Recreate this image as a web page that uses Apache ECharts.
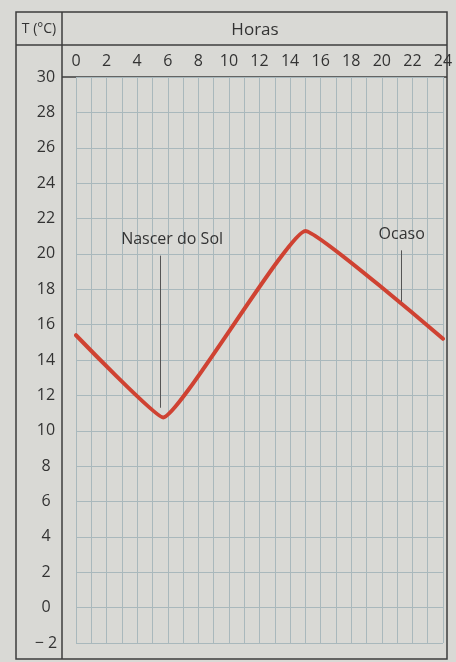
<!DOCTYPE html>
<html>
<head>
<meta charset="utf-8">
<script src="https://cdn.jsdelivr.net/npm/echarts@6/dist/echarts.min.js"></script>
<style>
  html, body { margin: 0; padding: 0; background: #d9d9d5; }
  #chart { width: 456px; height: 662px; }
</style>
</head>
<body>
<div id="chart"></div>
<script>
// hora do dia / temperatura (°C)
var horas = [0, 5.7, 15, 24]
var temperaturas = [15.4, 10.75, 21.3, 15.2]
// marcas: nascer do sol e ocaso
var nascerSol = { hora: 5.5, de: 19.9, ate: 11.3, texto: 'Nascer do Sol' }
var ocaso = { hora: 21.3, de: 20.2, ate: 17.3, texto: 'Ocaso' }

var fonte = '"Open Sans", "Noto Sans", sans-serif'
var corTexto = '#333'
var corGrade = '#a9b8bc'
var corMoldura = '#3c3c3c'

var chart = echarts.init(document.getElementById('chart'))

function marca(m, dx) {
  return [
    { coord: [m.hora, m.de], label: { formatter: m.texto, offset: [dx, 0] } },
    { coord: [m.hora, m.ate] }
  ]
}

var option = {
  backgroundColor: '#d9d9d5',
  animation: false,
  grid: { left: 76, right: 13, top: 77, bottom: 19 },
  xAxis: {
    type: 'value',
    position: 'top',
    min: 0,
    max: 24,
    interval: 2,
    axisLine: { show: false },
    axisTick: { show: false },
    minorTick: { show: false, splitNumber: 2 },
    axisLabel: { color: corTexto, fontSize: 16, fontFamily: fonte, margin: 8 },
    splitLine: { show: true, lineStyle: { color: corGrade, width: 1 } },
    minorSplitLine: { show: true, lineStyle: { color: corGrade, width: 1 } }
  },
  yAxis: {
    type: 'value',
    min: -2,
    max: 30,
    interval: 2,
    axisLine: { show: false },
    axisTick: { show: false },
    axisLabel: {
      color: corTexto, fontSize: 16, fontFamily: fonte, margin: 30, align: 'center',
      formatter: function (v) { return v < 0 ? '\u2212 ' + Math.abs(v) : String(v) }
    },
    splitLine: { show: true, lineStyle: { color: corGrade, width: 1 } }
  },
  graphic: [
    { type: 'rect', shape: { x: 16, y: 12, width: 431, height: 647 },
      style: { fill: null, stroke: corMoldura, lineWidth: 1.5 }, silent: true },
    { type: 'line', shape: { x1: 62, y1: 12, x2: 62, y2: 659 },
      style: { stroke: corMoldura, lineWidth: 1.5 }, silent: true },
    { type: 'line', shape: { x1: 16, y1: 45, x2: 447, y2: 45 },
      style: { stroke: corMoldura, lineWidth: 1.5 }, silent: true },
    { type: 'line', shape: { x1: 62, y1: 77, x2: 447, y2: 77 },
      style: { stroke: corMoldura, lineWidth: 1.5 }, silent: true },
    { type: 'text', x: 39, y: 29,
      style: { text: 'T (°C)', fill: corTexto, font: '14px ' + fonte,
        align: 'center', verticalAlign: 'middle' } },
    { type: 'text', x: 255, y: 30,
      style: { text: 'Horas', fill: corTexto, font: '17px ' + fonte,
        align: 'center', verticalAlign: 'middle' } }
  ],
  series: [
    {
      type: 'line',
      data: horas.map(function (h, i) { return [h, temperaturas[i]] }),
      smooth: 0.1,
      symbol: 'none',
      lineStyle: { color: '#cf4232', width: 4, cap: 'round', join: 'round' },
      markLine: {
        silent: true,
        symbol: 'none',
        lineStyle: { color: '#555', width: 1, type: 'solid' },
        label: {
          show: true, position: 'start', distance: 8,
          color: corTexto, fontSize: 16, fontFamily: fonte
        },
        data: [marca(nascerSol, 12), marca(ocaso, 0)]
      }
    }
  ]
}

chart.setOption(option)
</script>
</body>
</html>
